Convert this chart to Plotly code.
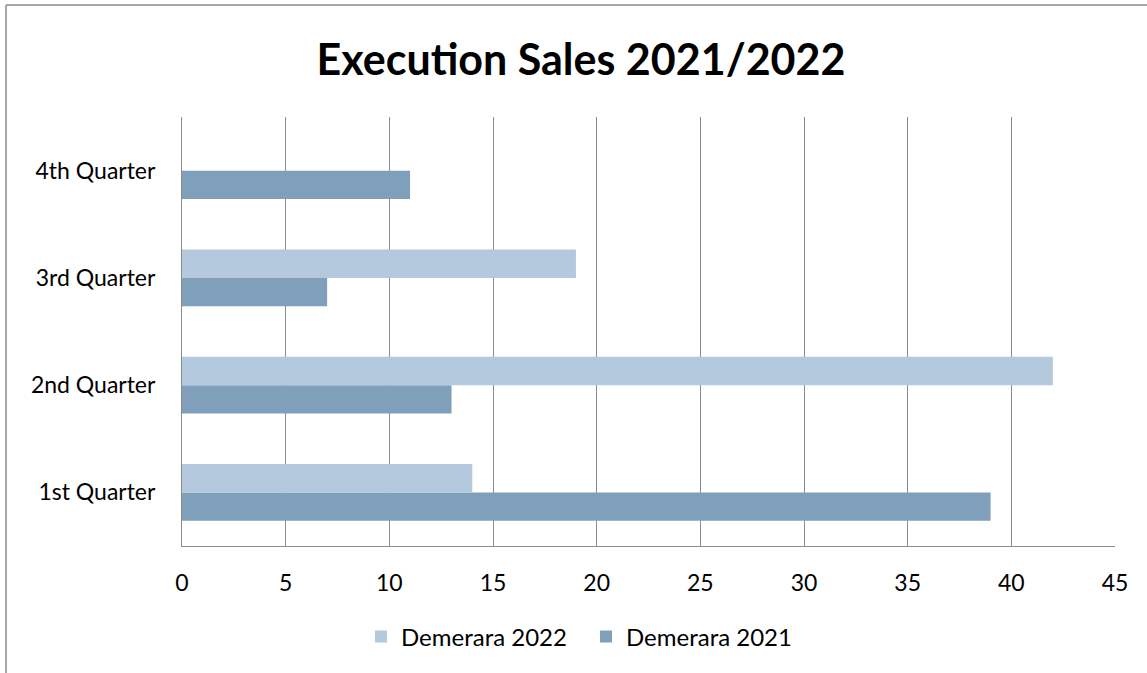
import plotly.graph_objects as go

categories = ["1st Quarter", "2nd Quarter", "3rd Quarter", "4th Quarter"]
sales_2021 = [39, 13, 7, 11]
sales_2022 = [14, 42, 19, None]
x_ticks = [0, 5, 10, 15, 20, 25, 30, 35, 40, 45]

FONT = "Lato"
fig = go.Figure()
fig.add_trace(go.Bar(y=categories, x=sales_2021, orientation="h", name="Demerara 2021",
                     marker=dict(color="#809FBB", line=dict(width=0))))
fig.add_trace(go.Bar(y=categories, x=sales_2022, orientation="h", name="Demerara 2022",
                     marker=dict(color="#B4C8DE", line=dict(width=0))))

L, R, T, B = 182, 32, 117, 127
W, H = 1147, 673
pw, ph = W - L - R, H - T - B

def px_x(p):
    return (p - L) / pw

def px_y(p):
    return (H - B - p) / ph

fig.update_layout(
    width=W, height=H,
    margin=dict(l=L, r=R, t=T, b=B),
    paper_bgcolor="white", plot_bgcolor="white",
    barmode="group", bargap=0.47, bargroupgap=0,
    title=dict(text="<b>Execution Sales 2021/2022</b>", x=px_x(581), xanchor="center",
               xref="paper", y=1 - 60 / H, yanchor="middle",
               font=dict(family=FONT, size=43, color="black")),
    font=dict(family=FONT, size=23, color="black"),
    showlegend=True,
    legend=dict(orientation="h", traceorder="reversed", x=px_x(586), xanchor="center",
                y=px_y(637), yanchor="middle", font=dict(family=FONT, size=24),
                itemwidth=30, entrywidth=180, entrywidthmode="pixels"),
    xaxis=dict(range=[0, 45], tickvals=x_ticks, showgrid=True, gridcolor="#8C8C8C",
               gridwidth=1, zeroline=False, showline=True, linecolor="#8C8C8C",
               linewidth=1, ticks="", ticklabelstandoff=16, fixedrange=True),
    yaxis=dict(categoryorder="array", categoryarray=categories, showgrid=False,
               zeroline=False, showline=True, linecolor="#8C8C8C", linewidth=1,
               ticks="", ticklabelstandoff=21, fixedrange=True),
    shapes=[
        dict(type="line", xref="paper", yref="paper", x0=px_x(6), x1=px_x(6),
             y0=px_y(5), y1=px_y(680), line=dict(color="#A6A6A6", width=2)),
        dict(type="line", xref="paper", yref="paper", x0=px_x(6), x1=px_x(1150),
             y0=px_y(5), y1=px_y(5), line=dict(color="#A6A6A6", width=2)),
    ],
)

fig.write_html("out.html", config={"displayModeBar": False},
               post_script="document.body.style.margin='0';")
